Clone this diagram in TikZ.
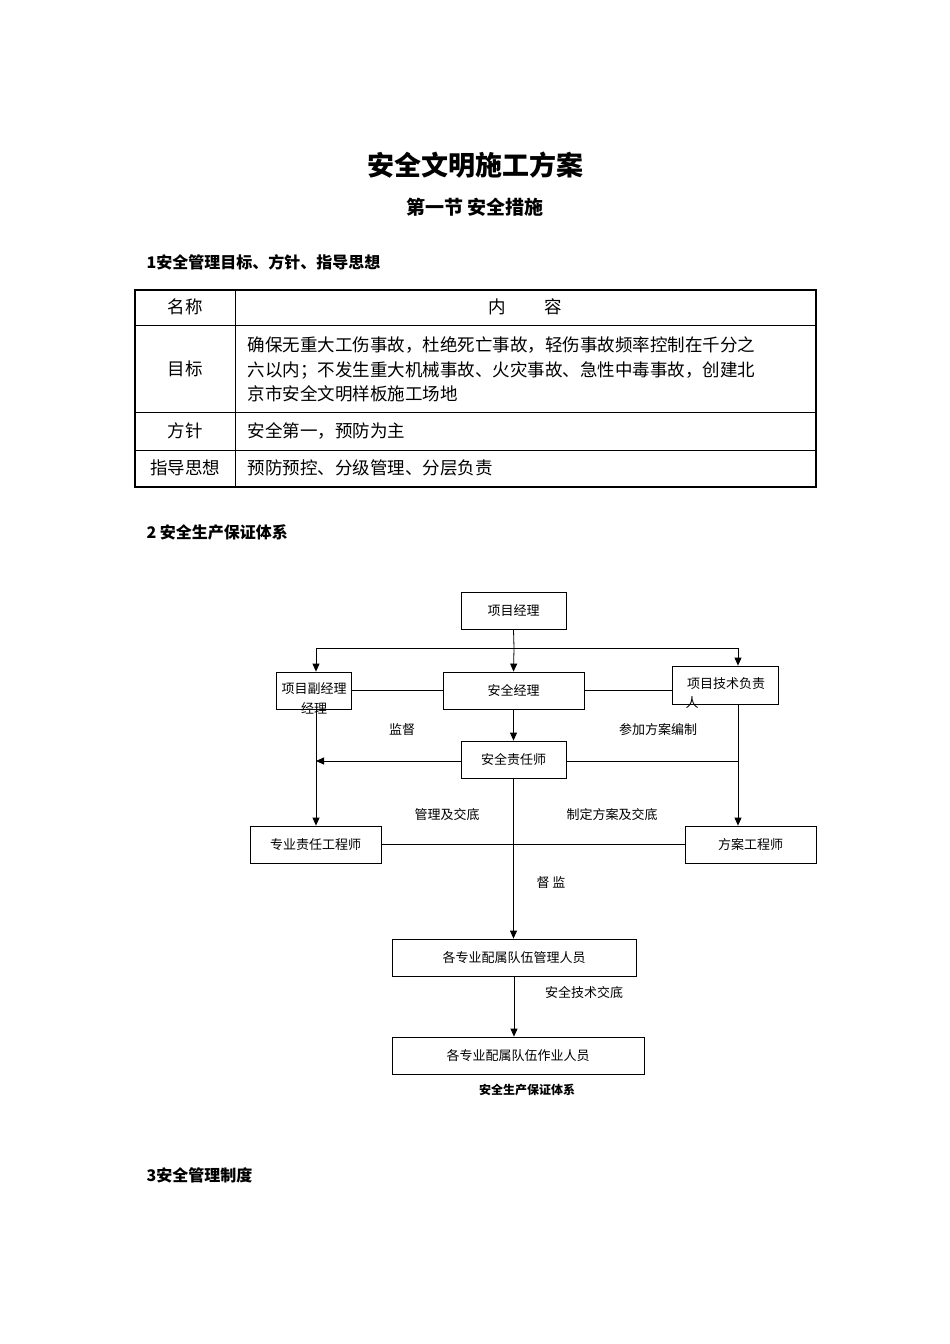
\documentclass[tikz,border=0pt]{standalone}
\usepackage{fontspec}
\setmainfont{Noto Sans CJK SC}
\usetikzlibrary{arrows.meta}
\begin{document}
\begin{tikzpicture}[x=1pt,y=-1pt,
  bx/.style={draw,line width=0.8pt,inner sep=0},
  lb/.style={font=\fontsize{13}{15}\selectfont},
  ln/.style={line width=0.8pt},
  ar/.style={ln,-{Triangle[length=8pt,width=7pt]}},
  tt/.style={font=\fontsize{17.5}{20}\selectfont},
  hd/.style={font=\bfseries\fontsize{16}{18}\selectfont,anchor=west}]
\useasboundingbox (0,0) rectangle (950,1344);
\node[font=\bfseries\fontsize{27}{30}\selectfont] (t1) at (475,165) {安全文明施工方案};
\node[font=\bfseries\fontsize{19}{22}\selectfont] (t2) at (475,207) {第一节 安全措施};
\node[hd] (h1) at (143,262) {1安全管理目标、方针、指导思想};
\node[hd] (h2) at (143,532) {2 安全生产保证体系};
\node[hd] (h3) at (143,1175) {3安全管理制度};
% table
\draw[line width=1.8pt] (135,290) rectangle (816,487);
\draw[ln] (235,290) -- (235,487);
\foreach \y in {325,412,450} \draw[ln] (135,\y) -- (816,\y);
\node[tt] (c1) at (185,307) {名称};
\node[tt] (c2) at (525,307) {内\hspace{2.2em}容};
\node[tt] (c3) at (185,369) {目标};
\node[tt,anchor=west] (r1) at (244,345) {确保无重大工伤事故，杜绝死亡事故，轻伤事故频率控制在千分之};
\node[tt,anchor=west] (r2) at (244,370) {六以内；不发生重大机械事故、火灾事故、急性中毒事故，创建北};
\node[tt,anchor=west] (r3) at (244,394) {京市安全文明样板施工场地};
\node[tt] (c4) at (185,431) {方针};
\node[tt,anchor=west] (r4) at (244,431) {安全第一，预防为主};
\node[tt] (c5) at (185,468) {指导思想};
\node[tt,anchor=west] (r5) at (244,468) {预防预控、分级管理、分层负责};
% chart boxes
\node[bx,minimum width=105,minimum height=37] (pm) at (513.5,610.5) {};
\node[lb] at (pm) {项目经理};
\node[bx,minimum width=75,minimum height=37] (dep) at (313.5,690.5) {};
\node[lb] at (314,689) {项目副经理};
\node[lb] at (314,708) {经理};
\node[bx,minimum width=141,minimum height=37] (sm) at (513.5,690.5) {};
\node[lb] at (sm) {安全经理};
\node[bx,minimum width=106,minimum height=38] (tech) at (725,685) {};
\node[lb] at (726,684) {项目技术负责};
\node[lb] at (692,703) {人};
\node[bx,minimum width=105,minimum height=37] (se) at (513.5,759.5) {};
\node[lb] at (se) {安全责任师};
\node[bx,minimum width=131,minimum height=37] (pe) at (315.5,844.5) {};
\node[lb] at (pe) {专业责任工程师};
\node[bx,minimum width=131,minimum height=37] (fe) at (750.5,844.5) {};
\node[lb] at (fe) {方案工程师};
\node[bx,minimum width=244,minimum height=37] (mg) at (514,957.5) {};
\node[lb] at (mg) {各专业配属队伍管理人员};
\node[bx,minimum width=252,minimum height=37] (wk) at (518,1055.5) {};
\node[lb] at (wk) {各专业配属队伍作业人员};
\node[font=\bfseries\fontsize{12}{14}\selectfont] (cap) at (527,1090) {安全生产保证体系};
% connectors
\coordinate (jm) at (514,648);
\coordinate (jl) at (316,648);
\coordinate (jr) at (738,648);
\coordinate (al) at (316,761);
\coordinate (ar2) at (738,761);
\draw[ln] (pm.south) -- (jm);
\draw[ln] (jl) -- (jr);
\draw[ar] (jm) -- (sm.north);
\draw[ar] (jl) -- (jl |- dep.north);
\draw[ar] (jr) -- (jr |- tech.north);
\draw[ln] (dep.east) -- (sm.west);
\draw[ln] (sm.east) -- (sm.east -| tech.west);
\draw[ar] (sm.south) -- (se.north);
\draw[ar] (se.west |- al) -- (al);
\draw[ln] (se.east |- ar2) -- (ar2);
\draw[ar] (jl |- dep.south) -- (jl |- pe.north);
\draw[ar] (jr |- tech.south) -- (jr |- fe.north);
\draw[ln] (pe.east) -- (fe.west);
\draw[ar] (se.south) -- (se.south |- mg.north);
\draw[ar] (mg.south) -- (mg.south |- wk.north);
\node[lb] (l1) at (402,730) {监督};
\node[lb] (l2) at (658,730) {参加方案编制};
\node[lb] (l3) at (447,815) {管理及交底};
\node[lb] (l4) at (612,815) {制定方案及交底};
\node[lb] (l5) at (551,883) {督 监};
\node[lb] (l6) at (584,993) {安全技术交底};
\end{tikzpicture}
\end{document}
